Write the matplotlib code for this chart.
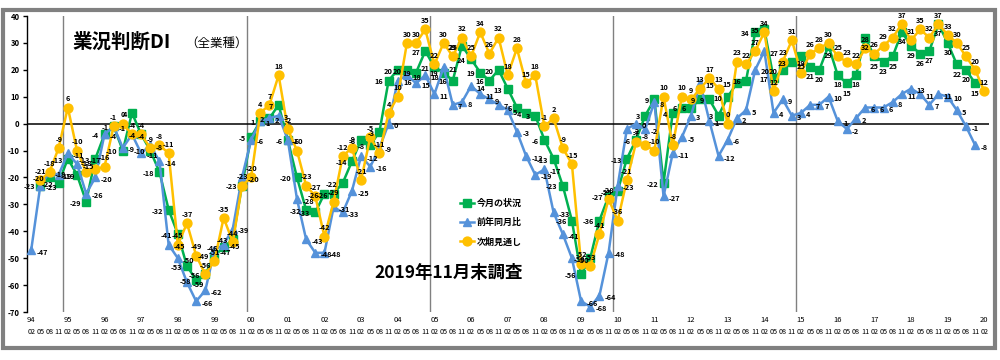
import numpy as np
import matplotlib

matplotlib.use("Agg")
import matplotlib.pyplot as plt
from matplotlib.patches import Rectangle

plt.rcParams["font.family"] = ["Noto Sans CJK JP", "DejaVu Sans"]

nan = np.nan

# quarterly survey points, 1994-02 .. 2020-02
YEARS = [f"{y % 100:02d}" for y in range(1994, 2021)]
MONTHS = ["02", "05", "08", "11"]

# 今月の状況 (1994-02 .. 2019-11)
current = [
    nan, -23, -20, -22, -13, -19, -29, -13, -4, -1, -10, 4, -4, -10, -18, -32,
    -41, -53, -58, -56, -49, -46, -43, -23,
    -5, 1, 2, 7, -6, -20, -32, -33,
    -26, -26, -22, -14, -6, -8, -3, 16,
    20, 20, 19, 27, 21, 19, 16, 29,
    24, 19, 16, 20, 13, 6, 4, 3,
    -6, -13, -23, -36, -56, -50, -36, -27,
    -25, -13, -6, 3, 9, -22, 4, 6,
    6, 9, 9, 3, 10, 15, 16, 34,
    35, 17, 20, 23, 25, 21, 20, 29,
    18, 15, 18, 32, 25, 23, 25, 34,
    29, 26, 27, 37, 30, 22, 20, 15,
]

# 前年同月比 (1994-02 .. 2019-11)
yoy = [
    -47, -23, -18, -19, -11, -15, -26, -20, -4, -1, -9, -4, -11, -8, -14, -45,
    -50, -59, -66, -62, -47, -45, -39, -20,
    -6, 1, 2, 3, -6, -28, -43, -48,
    -48, -31, -33, -25, -12, -16, -9, 0,
    16, 18, 15, 18, 11, 21, 7, 8,
    14, 11, 9, 7, 5, -3, -12, -19,
    -17, -33, -41, -50, -66, -68, -64, -48,
    -23, -2, 0, -2, 8, -27, -11, -5,
    3, 15, 1, -12, -6, 2, 5, 20,
    27, 4, 9, 3, 4, 7, 7, 10,
    1, -2, 2, 6, 6, 6, 8, 11,
    13, 11, 7, 11, 10, 5, -1, -8,
]

# 次期見通し (1994-02 .. 2020-02)
outlook = [
    nan, -21, -18, -9, 6, -10, -18, -17, -16, -1, 0, -4, -4, -9, -8, -11,
    -45, -37, -49, -56, -51, -35, -44, -23,
    -20, 4, 7, 18, -2, -10, -23, -27,
    -42, -29, -12, -9, -21, -5, -11, 4,
    10, 30, 30, 35, 22, 30, 25, 32,
    25, 34, 26, 32, 18, 28, 15, 18,
    -1, 2, -9, -15, -52, -53, -41, -28,
    -36, -21, -7, -8, -10, 10, -8, 10,
    9, 13, 17, 13, 0, 23, 22, 27,
    34, 12, 23, 31, 19, 26, 28, 30,
    25, 23, 22, 28, 26, 29, 32, 37,
    31, 35, 32, 37, 33, 30, 25, 20,
    12,
]

GREEN = "#00B050"
BLUE = "#5592DA"
ORANGE = "#FFC000"

fig = plt.figure(figsize=(10, 3.6), dpi=100)
ax = fig.add_axes([0.0266, 0.1333, 0.9623, 0.8222])

n = len(outlook)
x = np.arange(n)

ax.plot(x[:len(current)], current, color=GREEN, lw=1.8, marker="s", ms=5.6,
        zorder=3, label="今月の状況")
ax.plot(x[:len(yoy)], yoy, color=BLUE, lw=1.8, marker="^", ms=6.4,
        zorder=4, label="前年同月比")
ax.plot(x, outlook, color=ORANGE, lw=1.8, marker="o", ms=6.4,
        zorder=5, label="次期見通し")

lab = dict(fontsize=5.3, fontweight="bold", color="black",
           textcoords="offset points", zorder=6)
for i, v in enumerate(current):
    if np.isnan(v):
        continue
    if i >= 84:
        # later green labels sit under the markers
        ax.annotate(f"{v:.0f}", (i, v), xytext=(0, -4.5), ha="center",
                    va="top", **lab)
    else:
        ax.annotate(f"{v:.0f}", (i, v), xytext=(-3.8, -1), ha="right",
                    va="center", **lab)
for i, v in enumerate(yoy):
    ax.annotate(f"{v:.0f}", (i, v), xytext=(3.8, -1.5), ha="left",
                va="center", **lab)
for i, v in enumerate(outlook):
    if not np.isnan(v):
        ax.annotate(f"{v:.0f}", (i, v), xytext=(0, 3.8), ha="center",
                    va="bottom", **lab)

ax.set_xlim(-0.5, n - 0.5)
ax.set_ylim(-70, 40)
ax.set_yticks(range(-70, 41, 10))
ax.set_yticklabels([str(t) for t in range(-70, 41, 10)], fontsize=5.5,
                   fontweight="bold")
ax.tick_params(axis="y", length=3, width=1, pad=2)
ax.set_xticks([])
for side in ("top", "right", "bottom"):
    ax.spines[side].set_visible(False)
ax.spines["left"].set_linewidth(1)
ax.axhline(0, color="black", lw=1.1, zorder=2)
for k in range(5):
    ax.axvline(3.5 + 20 * k, color="#808080", lw=1, zorder=1)

tr = ax.get_xaxis_transform()
for k, yr in enumerate(YEARS):
    ax.text(4 * k, -0.027, yr, transform=tr, fontsize=5.5, ha="center",
            va="center", clip_on=False)
for i in range(n):
    ax.text(i, -0.068, MONTHS[i % 4], transform=tr, fontsize=5.2,
            ha="center", va="center", clip_on=False)

fig.text(0.072, 1 - 42 / 360, "業況判断DI", fontsize=14, fontweight="bold",
         va="center", ha="left")
fig.text(0.185, 1 - 43 / 360, "（全業種）", fontsize=9, va="center",
         ha="left")
fig.text(0.449, 1 - 273 / 360, "2019年11月末調査", fontsize=12.5,
         fontweight="bold", va="center", ha="center")

ax.legend(loc="upper left", bbox_to_anchor=(0.452, 1 - 191 / 360),
          bbox_transform=fig.transFigure, frameon=False,
          handlelength=1.5, handletextpad=0.3, labelspacing=1.1,
          prop={"weight": "bold", "size": 6.5})

fig.add_artist(Rectangle((0.003, 0.033), 0.992, 0.939,
                         transform=fig.transFigure, fill=False,
                         edgecolor="#808080", lw=3))

fig.savefig("out.png", dpi=100, facecolor="white")
